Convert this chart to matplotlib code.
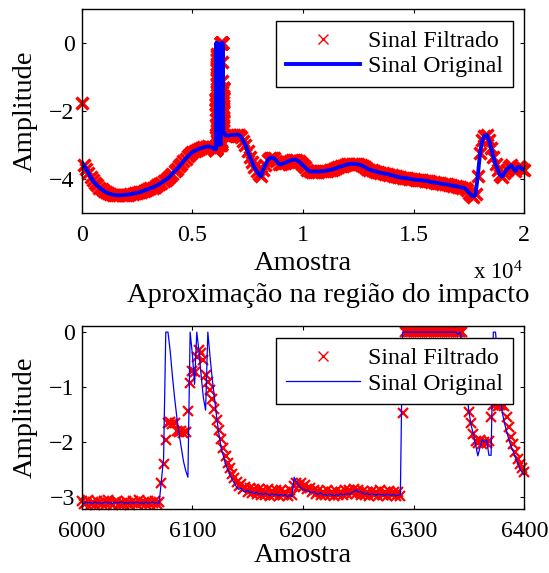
import numpy as np
import matplotlib
matplotlib.use("Agg")
import matplotlib.pyplot as plt

plt.rcParams['font.family'] = ['Liberation Serif', 'DejaVu Serif']
plt.rcParams['mathtext.fontset'] = 'custom'
plt.rcParams['mathtext.rm'] = 'Liberation Serif'
plt.rcParams['mathtext.it'] = 'Liberation Serif:italic'

# ---- full signal, coarse read-out (every 100 samples) outside the impact window ----
top_pre_x = np.arange(0, 6000, 100)
top_pre = [
    -3.49, -3.60, -3.70, -3.82, -3.94, -4.04, -4.12, -4.19, -4.25, -4.30,
    -4.35, -4.39, -4.42, -4.44, -4.46, -4.47, -4.48, -4.48, -4.47, -4.47,
    -4.46, -4.46, -4.45, -4.43, -4.42, -4.41, -4.39, -4.37, -4.35, -4.32,
    -4.30, -4.27, -4.25, -4.22, -4.19, -4.15, -4.11, -4.06, -4.02, -3.98,
    -3.91, -3.84, -3.77, -3.71, -3.63, -3.55, -3.47, -3.40, -3.33, -3.27,
    -3.21, -3.17, -3.14, -3.11, -3.09, -3.07, -3.05, -3.04, -3.05, -3.07,
]
top_post_x = np.arange(6500, 20001, 100)
top_post = [
    -2.72, -2.72, -2.71, -2.70, -2.70, -2.69, -2.70, -2.76, -2.88, -3.00,
    -3.18, -3.35, -3.50, -3.65, -3.76, -3.86, -3.92, -3.72, -3.58, -3.45,
    -3.38, -3.37, -3.39, -3.47, -3.55, -3.57, -3.54, -3.52, -3.49, -3.46,
    -3.44, -3.43, -3.44, -3.48, -3.53, -3.60, -3.66, -3.72, -3.77, -3.78,
    -3.78, -3.78, -3.78, -3.77, -3.77, -3.76, -3.75, -3.73, -3.72, -3.70,
    -3.68, -3.66, -3.63, -3.61, -3.59, -3.57, -3.56, -3.55, -3.55, -3.56,
    -3.57, -3.59, -3.61, -3.65, -3.69, -3.72, -3.74, -3.76, -3.78, -3.80,
    -3.82, -3.83, -3.84, -3.85, -3.87, -3.89, -3.90, -3.92, -3.94, -3.95,
    -3.96, -3.97, -3.98, -3.99, -4.00, -4.01, -4.02, -4.03, -4.03, -4.04,
    -4.05, -4.05, -4.07, -4.09, -4.10, -4.11, -4.12, -4.13, -4.14, -4.15,
    -4.16, -4.17, -4.19, -4.20, -4.21, -4.22, -4.24, -4.25, -4.27, -4.32,
    -4.40, -4.47, -4.52, -4.44, -3.90, -3.24, -2.85, -2.72, -2.70, -2.85,
    -3.08, -3.35, -3.56, -3.72, -3.88, -3.93, -3.82, -3.73, -3.66, -3.60,
    -3.68, -3.77, -3.66, -3.64, -3.70, -3.74,
]
filt_first = -1.75  # first filtered sample (outlier at x=0)

# ---- impact window 6000..6400, every 2 samples ----
zoom_x = np.arange(6000, 6401, 2)
zoom_orig = [
    -3.10, -3.12, -3.09, -3.11, -3.10, -3.12, -3.09, -3.11, -3.10, -3.12,  # 6000
    -3.10, -3.09, -3.11, -3.10, -3.12, -3.09, -3.11, -3.10, -3.09, -3.11,  # 6020
    -3.10, -3.12, -3.09, -3.11, -3.10, -3.09, -3.11, -3.10, -3.12, -3.09,  # 6040
    -3.11, -3.10, -3.09, -3.11, -3.10, -3.11, -2.70, -2.30, 0.00, 0.00,    # 6060
    -0.35, -0.80, -1.20, -1.55, -1.85, -2.10, -2.35, -2.52, -2.64, 0.00,   # 6080
    -0.40, -0.95, 0.00, -0.35, -0.80, -1.20, -1.42, 0.00, -0.45, -0.85,    # 6100
    -1.20, -1.55, -1.85, -2.10, -2.25, -2.40, -2.50, -2.60, -2.68, -2.75,  # 6120
    -2.82, -2.86, -2.84, -2.89, -2.91, -2.88, -2.92, -2.90, -2.94, -2.91,  # 6140
    -2.95, -2.93, -2.96, -2.93, -2.95, -2.97, -2.94, -2.96, -2.95, -2.98,  # 6160
    -2.95, -2.97, -2.96, -3.00, -2.96, -3.00, -2.64, -2.72, -2.79, -2.83,  # 6180
    -2.86, -2.88, -2.87, -2.91, -2.92, -2.90, -2.94, -2.95, -2.92, -2.96,  # 6200
    -2.95, -2.97, -2.94, -2.96, -2.98, -2.95, -2.97, -2.94, -2.96, -2.95,  # 6220
    -2.94, -2.95, -2.92, -2.90, -2.87, -2.91, -2.90, -2.93, -2.95, -2.93,  # 6240
    -2.96, -2.94, -2.95, -2.97, -2.94, -2.96, -2.95, -2.97, -2.94, -2.96,  # 6260
    -2.97, -2.95, -2.98, -2.96, -2.97, 0.00, 0.00, 0.00, 0.00, 0.00,       # 6280
    0.00, 0.00, 0.00, 0.00, 0.00, 0.00, 0.00, 0.00, 0.00, 0.00,            # 6300
    0.00, 0.00, 0.00, 0.00, 0.00, 0.00, 0.00, 0.00, 0.00, 0.00,            # 6320
    -0.04, 0.00, -0.25, -0.70, -1.10, -1.45, -1.70, -1.85, -2.05, -2.25,   # 6340
    -2.10, -1.95, -2.00, -1.96, -2.24, -2.24, 0.00, 0.00, -0.50, -1.05,    # 6360
    -1.45, -1.65, -1.80, -1.95, -2.08, -2.17, -2.28, -2.38, -2.48, -2.55,  # 6380
    -2.60,
]
zoom_filt = [
    -3.08, -3.13, -3.10, -3.06, -3.12, -3.09, -3.14, -3.07, -3.11, -3.13,  # 6000
    -3.08, -3.12, -3.06, -3.10, -3.14, -3.09, -3.07, -3.12, -3.10, -3.13,  # 6020
    -3.07, -3.11, -3.14, -3.08, -3.10, -3.13, -3.06, -3.11, -3.09, -3.12,  # 6040
    -3.08, -3.13, -3.10, -3.07, -3.12, -3.09, -2.75, -2.40, -1.97, -1.66,  # 6060
    -1.64, -1.67, -1.65, -1.80, -1.82, -1.80, -1.83, -1.81, -1.43, -0.92,  # 6080
    -0.70, -0.72, -0.45, -0.33, -0.38, -0.50, -0.78, -0.90, -1.05, -1.22,  # 6100
    -1.40, -1.60, -1.78, -1.95, -2.10, -2.25, -2.38, -2.48, -2.58, -2.66,  # 6120
    -2.72, -2.80, -2.76, -2.86, -2.82, -2.90, -2.84, -2.92, -2.86, -2.95,  # 6140
    -2.85, -2.96, -2.88, -2.97, -2.86, -2.98, -2.89, -2.96, -2.87, -2.99,  # 6160
    -2.88, -2.97, -2.90, -2.99, -2.87, -2.96, -2.80, -2.74, -2.79, -2.75,  # 6180
    -2.82, -2.78, -2.86, -2.84, -2.90, -2.87, -2.94, -2.89, -2.96, -2.90,  # 6200
    -2.97, -2.88, -2.96, -2.90, -2.98, -2.89, -2.97, -2.91, -2.96, -2.88,  # 6220
    -2.95, -2.87, -2.93, -2.86, -2.94, -2.88, -2.96, -2.89, -2.97, -2.90,  # 6240
    -2.98, -2.89, -2.96, -2.91, -2.99, -2.88, -2.97, -2.90, -2.98, -2.89,  # 6260
    -2.97, -2.90, -2.99, -2.91, -2.98, -1.47, 0.00, 0.00, 0.00, 0.00,      # 6280
    0.00, 0.00, 0.00, 0.00, 0.00, 0.00, 0.00, 0.00, 0.00, 0.00,            # 6300
    0.00, 0.00, 0.00, 0.00, 0.00, 0.00, 0.00, 0.00, 0.00, 0.00,            # 6320
    0.00, 0.00, 0.00, -0.55, -1.10, -1.45, -1.65, -1.85, -1.98, -2.02,     # 6340
    -1.97, -2.03, -1.99, -2.02, -1.98, -1.55, -1.33, -1.31, -1.34, -1.32,  # 6360
    -1.33, -1.35, -1.55, -1.72, -1.90, -2.04, -2.18, -2.30, -2.40, -2.48,  # 6380
    -2.55,
]

full_x = np.concatenate([top_pre_x, zoom_x, top_post_x])
full_orig = np.concatenate([top_pre, zoom_orig, top_post])
full_filt = np.concatenate([[filt_first], top_pre[1:], zoom_filt, top_post])

fig = plt.figure(figsize=(5.49, 5.73), dpi=100)
ax1 = fig.add_axes([0.1488, 0.6283, 0.8062, 0.3555])
ax2 = fig.add_axes([0.1488, 0.1124, 0.8062, 0.3195])

tick_fs = 17.2
label_fs = 20.5

# top: whole record
ax1.plot(full_x, full_filt, 'x', color='r', ms=9, mew=2.4, clip_on=False, label='Sinal Filtrado')
ax1.plot(full_x, full_orig, '-', color='b', lw=2.8, label='Sinal Original')
ax1.set_xlim(0, 20000)
ax1.set_ylim(-5, 1)
ax1.set_xticks([0, 5000, 10000, 15000, 20000])
ax1.set_xticklabels(['0', '0.5', '1', '1.5', '2'])
ax1.set_yticks([-4, -2, 0])

# bottom: zoom on the impact
ax2.plot(zoom_x, zoom_filt, 'x', color='r', ms=7.5, mew=1.6, clip_on=False, label='Sinal Filtrado')
ax2.plot(zoom_x, zoom_orig, '-', color='b', lw=0.9, label='Sinal Original')
ax2.set_xlim(6000, 6400)
ax2.set_ylim(-3.21, 0.12)
ax2.set_xticks([6000, 6100, 6200, 6300, 6400])
ax2.set_yticks([-3, -2, -1, 0])

for ax, ay in [(ax1, 0.944), (ax2, 0.932)]:
    ax.tick_params(direction='in', length=3.2, width=0.8, top=True, right=True,
                   labelsize=tick_fs)
    ax.tick_params(axis='x', pad=9)
    ax.tick_params(axis='y', pad=5)
    for sp in ax.spines.values():
        sp.set_linewidth(1.0)
    leg = ax.legend(loc='upper right', bbox_to_anchor=(0.974, ay), borderaxespad=0,
                    fontsize=tick_fs, fancybox=False, edgecolor='k', framealpha=1,
                    borderpad=0.4, labelspacing=0.15, handlelength=3.1,
                    handletextpad=0.35, numpoints=1)
    leg.get_frame().set_linewidth(1.0)
    mk = leg.legend_handles[0]
    mk.set_markersize(7)
    mk.set_markeredgewidth(1.0)

# labels
fig.text(0.1488 + 0.8062 / 2, 1 - 264 / 573, 'Amostra', fontsize=label_fs, ha='center', va='center')
fig.text(0.1488 + 0.8062 / 2, 1 - 555 / 573, 'Amostra', fontsize=label_fs, ha='center', va='center')
fig.text(25 / 549, 1 - 111 / 573, 'Amplitude', fontsize=label_fs, rotation=90, ha='center', va='center')
fig.text(25 / 549, 1 - 417 / 573, 'Amplitude', fontsize=label_fs, rotation=90, ha='center', va='center')
fig.text(523 / 549, 1 - 273 / 573, r'x 10$^4$', fontsize=16.5, ha='right', va='center')
fig.text(328 / 549, 1 - 296 / 573, 'Aproximação na região do impacto', fontsize=label_fs,
         ha='center', va='center')

fig.savefig('out.png', dpi=100)
